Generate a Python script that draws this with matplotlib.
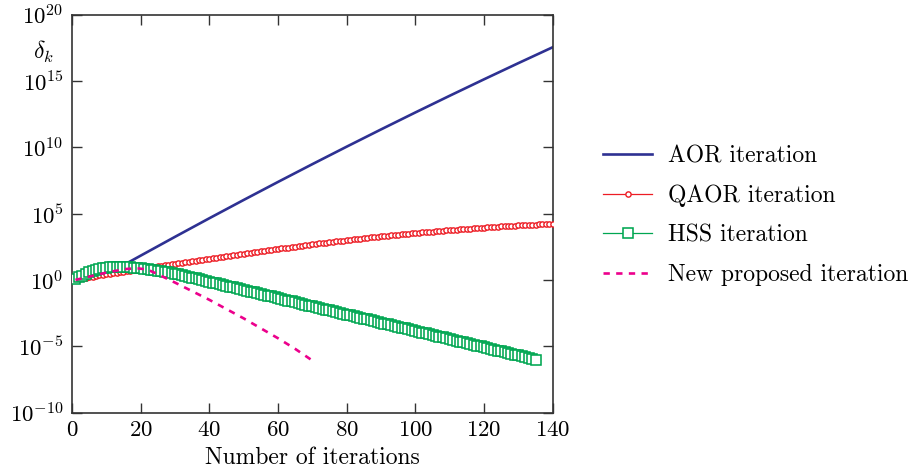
import matplotlib
matplotlib.use("Agg")
import matplotlib.pyplot as plt
import numpy as np

# fonts: Computer Modern look, like the LaTeX original
plt.rcParams['font.family'] = 'cmr10'
plt.rcParams['mathtext.fontset'] = 'cm'
plt.rcParams['axes.unicode_minus'] = False
plt.rcParams['axes.formatter.use_mathtext'] = True

# ---- data : log10 of delta_k ----

# AOR iteration (plain line, read at a few iterations)
aor_iter = [1, 5, 10, 13, 16, 20, 30, 40, 50, 60, 70, 80, 90, 100, 110, 120, 130, 140]
aor_exp = [0.0, 0.25, 0.6, 0.9, 1.26, 1.83, 3.25, 4.65, 6.03, 7.39, 8.73, 10.05,
           11.35, 12.63, 13.89, 15.13, 16.35, 17.55]

# QAOR iteration, one marker per iteration 1..140
qaor_exp = [
    0.04, 0.08, 0.13, 0.17, 0.21, 0.25, 0.29, 0.34, 0.38, 0.42,
    0.46, 0.50, 0.54, 0.58, 0.62, 0.66, 0.70, 0.74, 0.78, 0.82,
    0.86, 0.90, 0.94, 0.98, 1.02, 1.05, 1.09, 1.13, 1.17, 1.21,
    1.25, 1.29, 1.32, 1.36, 1.40, 1.44, 1.48, 1.51, 1.55, 1.59,
    1.63, 1.67, 1.70, 1.74, 1.78, 1.82, 1.86, 1.89, 1.93, 1.97,
    2.01, 2.04, 2.08, 2.12, 2.16, 2.19, 2.23, 2.27, 2.30, 2.34,
    2.38, 2.41, 2.44, 2.48, 2.51, 2.55, 2.58, 2.62, 2.65, 2.69,
    2.72, 2.75, 2.78, 2.81, 2.85, 2.88, 2.91, 2.94, 2.97, 3.00,
    3.03, 3.06, 3.08, 3.11, 3.14, 3.17, 3.20, 3.22, 3.25, 3.28,
    3.31, 3.33, 3.36, 3.38, 3.41, 3.44, 3.46, 3.49, 3.51, 3.54,
    3.56, 3.58, 3.61, 3.63, 3.65, 3.67, 3.69, 3.72, 3.74, 3.76,
    3.78, 3.80, 3.82, 3.84, 3.86, 3.87, 3.89, 3.91, 3.93, 3.95,
    3.97, 3.98, 4.00, 4.02, 4.03, 4.05, 4.06, 4.08, 4.10, 4.11,
    4.12, 4.14, 4.15, 4.17, 4.18, 4.19, 4.21, 4.22, 4.24, 4.25,
]

# HSS iteration, one marker per iteration 1..135
hss_exp = [
    0.05, 0.20, 0.33, 0.45, 0.56, 0.66, 0.75, 0.82, 0.87, 0.91,
    0.94, 0.96, 0.97, 0.97, 0.97, 0.96, 0.95, 0.93, 0.91, 0.88,
    0.85, 0.82, 0.78, 0.75, 0.71, 0.67, 0.62, 0.57, 0.52, 0.47,
    0.41, 0.35, 0.29, 0.23, 0.17, 0.11, 0.04, -0.02, -0.08, -0.14,
    -0.20, -0.26, -0.33, -0.39, -0.45, -0.51, -0.57, -0.63, -0.70, -0.76,
    -0.82, -0.88, -0.94, -1.00, -1.07, -1.13, -1.19, -1.25, -1.31, -1.38,
    -1.44, -1.50, -1.56, -1.62, -1.68, -1.75, -1.81, -1.87, -1.93, -1.99,
    -2.05, -2.12, -2.18, -2.24, -2.30, -2.36, -2.42, -2.49, -2.55, -2.61,
    -2.67, -2.73, -2.79, -2.86, -2.92, -2.98, -3.04, -3.10, -3.17, -3.23,
    -3.29, -3.35, -3.41, -3.47, -3.54, -3.60, -3.66, -3.72, -3.78, -3.84,
    -3.91, -3.97, -4.03, -4.09, -4.15, -4.22, -4.28, -4.34, -4.40, -4.46,
    -4.52, -4.59, -4.65, -4.71, -4.77, -4.83, -4.89, -4.96, -5.02, -5.08,
    -5.14, -5.20, -5.27, -5.33, -5.39, -5.45, -5.51, -5.57, -5.64, -5.70,
    -5.76, -5.82, -5.88, -5.94, -6.03,
]

# new proposed iteration (dashed line, read at a few iterations)
new_iter = [1, 5, 10, 13, 16, 19, 22, 25, 30, 35, 40, 45, 50, 55, 60, 65, 70]
new_exp = [0.0, 0.25, 0.55, 0.7, 0.83, 0.88, 0.78, 0.43, -0.2, -0.85, -1.5,
           -2.2, -2.9, -3.65, -4.4, -5.2, -6.08]

labels = ['AOR iteration', 'QAOR iteration', 'HSS iteration', 'New proposed iteration']
colors = ['#2e3192', '#ed1c24', '#00a651', '#ec008c']

x_ticks = [0, 20, 40, 60, 80, 100, 120, 140]
y_ticks = [1e-10, 1e-5, 1e0, 1e5, 1e10, 1e15, 1e20]

qaor_iter = np.arange(1, len(qaor_exp) + 1)
hss_iter = np.arange(1, len(hss_exp) + 1)

fig = plt.figure(figsize=(9.17, 4.76), dpi=100)
ax = fig.add_axes([0.0785, 0.1334, 0.5242, 0.8356])

# the curves
ax.plot(aor_iter, 10.0 ** np.array(aor_exp), color=colors[0], lw=1.9,
        label=labels[0], zorder=2)
ax.plot(qaor_iter, 10.0 ** np.array(qaor_exp), color=colors[1], lw=0.9,
        marker='o', ms=3.8, mfc='white', mew=1.0, label=labels[1], zorder=3)
ax.plot(hss_iter, 10.0 ** np.array(hss_exp), color=colors[2], lw=0.9,
        marker='s', ms=7.0, mfc='white', mew=1.15, label=labels[2], zorder=4)
ax.plot(new_iter, 10.0 ** np.array(new_exp), color=colors[3], lw=1.9,
        ls=(0, (2.4, 2.4)), label=labels[3], zorder=5)

ax.set_yscale('log')
ax.set_xlim(0, 140)
ax.set_ylim(1e-10, 1e20)
ax.set_xticks(x_ticks)
ax.set_yticks(y_ticks)
ax.yaxis.set_minor_locator(matplotlib.ticker.NullLocator())

# ticks pointing in, on all four sides
ax.tick_params(direction='in', top=True, right=True, length=7, width=1.0,
               color='#333333', labelsize=16.5, pad=6)
for sp in ax.spines.values():
    sp.set_linewidth(1.2)
    sp.set_color('#333333')

ax.set_xlabel('Number of iterations', fontsize=17, labelpad=5)
ax.set_ylabel(r'$\delta_k$', fontsize=17, rotation=0, va='center', ha='center')
ax.yaxis.set_label_coords(-0.06, 0.906)

ax.legend(loc='center left', bbox_to_anchor=(1.06, 0.495), frameon=False,
          fontsize=17, numpoints=1, handlelength=2.1, handletextpad=0.68,
          labelspacing=0.74)

fig.savefig('out.png', dpi=100)
